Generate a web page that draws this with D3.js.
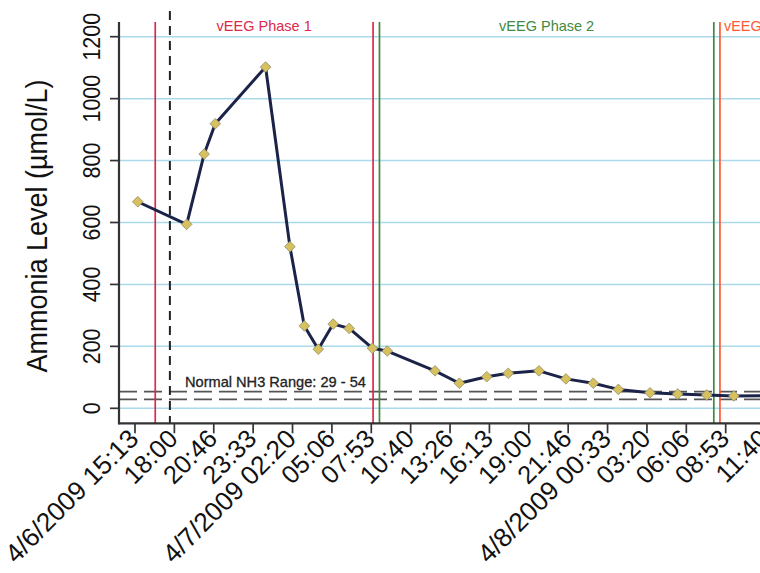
<!DOCTYPE html>
<html><head><meta charset="utf-8">
<script src="https://cdn.jsdelivr.net/npm/d3@7"></script>
<style>body{margin:0;background:#fff}svg{display:block}text{font-family:"Liberation Sans",Arial,sans-serif}</style>
</head><body><svg id="c" width="760" height="573"></svg>
<script>
// ---- data ----
const sampleTimes = ["2009-04-06 15:25","2009-04-06 18:52","2009-04-06 20:06","2009-04-06 20:53","2009-04-07 00:26","2009-04-07 02:09","2009-04-07 03:10","2009-04-07 04:09","2009-04-07 05:12","2009-04-07 06:20","2009-04-07 07:58","2009-04-07 09:01","2009-04-07 12:23","2009-04-07 14:06","2009-04-07 16:02","2009-04-07 17:33","2009-04-07 19:43","2009-04-07 21:37","2009-04-07 23:33","2009-04-08 01:19","2009-04-08 03:33","2009-04-08 05:30","2009-04-08 07:33","2009-04-08 09:28","2009-04-08 11:52"];
const ammonia = [667,594,821,919,1102,522,266,191,272,258,194,185,121,81,102,113,121,95,81,61,50,46,43,40,41];
const yTicks = [0,200,400,600,800,1000,1200];
const xTickStart = "2009-04-06 15:13:20";
const xTickStepSeconds = 10000;
const xTickCount = 17;
const xDomain = ["2009-04-06 14:05:37","2009-04-08 13:25:28"];
const phaseNames = ["vEEG Phase 1","vEEG Phase 2","vEEG Phase 3"];
const phaseStarts = ["2009-04-06 16:39","2009-04-07 08:28","2009-04-08 08:29"];
const phaseEnds = ["2009-04-07 08:01","2009-04-08 08:03","2009-04-08 15:45"];
const phaseColors = ["#dc2a4a","#3f8a3f","#ff5a36"];
const eventTime = "2009-04-06 17:41";
const normalRange = [29,54];
const normalLabel = "Normal NH3 Range: 29 - 54";
const yTitle = "Ammonia Level (µmol/L)";

// ---- drawing ----
(function(){
const parse = s => d3.timeParse(s.length > 16 ? "%Y-%m-%d %H:%M:%S" : "%Y-%m-%d %H:%M")(s);
const svg = d3.select("#c");
const pLeft = 119, pRight = 790, pTop = 22, pBottom = 423.3;
const x = d3.scaleTime().domain(xDomain.map(parse)).range([pLeft, pRight]);
const y = d3.scaleLinear().domain([0,1200]).range([408.3, 36.7]);

// gridlines
svg.append("g").selectAll("line").data(yTicks).join("line")
  .attr("x1", pLeft).attr("x2", 760).attr("y1", d=>y(d)).attr("y2", d=>y(d))
  .attr("stroke", "#a9d9ea").attr("stroke-width", 1.5);

// normal range
svg.append("g").selectAll("line").data(normalRange).join("line")
  .attr("x1", pLeft).attr("x2", 760).attr("y1", d=>y(d)).attr("y2", d=>y(d))
  .attr("stroke", "#555").attr("stroke-width", 1.8).attr("stroke-dasharray", "18,7");
svg.append("text").attr("x", 185).attr("y", 387).attr("font-size", 14.6).attr("fill", "#222")
  .attr("stroke","#222").attr("stroke-width",0.3).text(normalLabel);

// phase lines
const phaseData = phaseNames.map((n,i)=>({n, s:parse(phaseStarts[i]), e:parse(phaseEnds[i]), c:phaseColors[i]}));
phaseData.forEach(p=>{
  [p.s, p.e].forEach(t=>{
    svg.append("line").attr("x1", x(t)).attr("x2", x(t)).attr("y1", pTop).attr("y2", pBottom)
      .attr("stroke", p.c).attr("stroke-width", 1.7);
  });
  svg.append("text").attr("x", (x(p.s)+x(p.e))/2).attr("y", 31).attr("text-anchor","middle")
    .attr("font-size", 14.5).attr("fill", p.c).text(p.n);
});
// event dashed line
svg.append("line").attr("x1", x(parse(eventTime))).attr("x2", x(parse(eventTime)))
  .attr("y1", 11).attr("y2", pBottom).attr("stroke", "#222").attr("stroke-width", 2)
  .attr("stroke-dasharray", "9,6");

// series
const pts = sampleTimes.map((t,i)=>({t:parse(t), v:ammonia[i]}));
svg.append("path").datum(pts).attr("fill","none").attr("stroke","#1b2349").attr("stroke-width",3)
  .attr("stroke-linejoin","round")
  .attr("d", d3.line().x(d=>x(d.t)).y(d=>y(d.v)));
svg.append("g").selectAll("path").data(pts).join("path")
  .attr("d", d3.symbol(d3.symbolDiamond2, 72)())
  .attr("transform", d=>`translate(${x(d.t)},${y(d.v)})`)
  .attr("fill","#d6c15e").attr("stroke","#8f8c6a").attr("stroke-width",0.8);

// axes lines
svg.append("line").attr("x1", pLeft).attr("x2", pLeft).attr("y1", pTop).attr("y2", pBottom+1)
  .attr("stroke","#333").attr("stroke-width",2.2);
svg.append("line").attr("x1", pLeft-1).attr("x2", 760).attr("y1", pBottom).attr("y2", pBottom)
  .attr("stroke","#333").attr("stroke-width",2.2);

// y ticks
const yg = svg.append("g");
yg.selectAll("line").data(yTicks).join("line").attr("x1", 110).attr("x2", pLeft)
  .attr("y1", d=>y(d)).attr("y2", d=>y(d)).attr("stroke","#333").attr("stroke-width",1.7);
yg.selectAll("text").data(yTicks).join("text")
  .attr("transform", d=>`translate(100,${y(d)}) rotate(-90) scale(1,1.12)`)
  .attr("text-anchor","middle").attr("font-size", 21.5).attr("fill","#111").text(d=>d);

// x ticks
const t0 = parse(xTickStart);
const xTicks = d3.range(xTickCount).map(i=>new Date(t0.getTime() + i*xTickStepSeconds*1000));
const fmtTime = d3.timeFormat("%H:%M"), fmtDate = d3.timeFormat("%-m/%-d/%Y %H:%M");
const isDate = (d,i) => i===0 || xTicks[i-1].getDate()!==d.getDate();
const xg = svg.append("g");
xg.selectAll("line").data(xTicks).join("line").attr("x1", d=>x(d)).attr("x2", d=>x(d))
  .attr("y1", pBottom).attr("y2", pBottom+10).attr("stroke","#333").attr("stroke-width",1.7);
xg.selectAll("text").data(xTicks).join("text")
  .attr("transform", d=>`translate(${x(d)+5},${pBottom+17}) rotate(-45)`)
  .attr("text-anchor","end").attr("font-size", (d,i)=>isDate(d,i)?26.3:25.5).attr("fill","#111")
  .text((d,i)=> isDate(d,i) ? fmtDate(d) : fmtTime(d));

// y title
svg.append("text").attr("transform","translate(47,226) rotate(-90) scale(1,1.1)")
  .attr("text-anchor","middle").attr("font-size", 27).attr("fill","#111").text(yTitle);
})();
</script></body></html>
